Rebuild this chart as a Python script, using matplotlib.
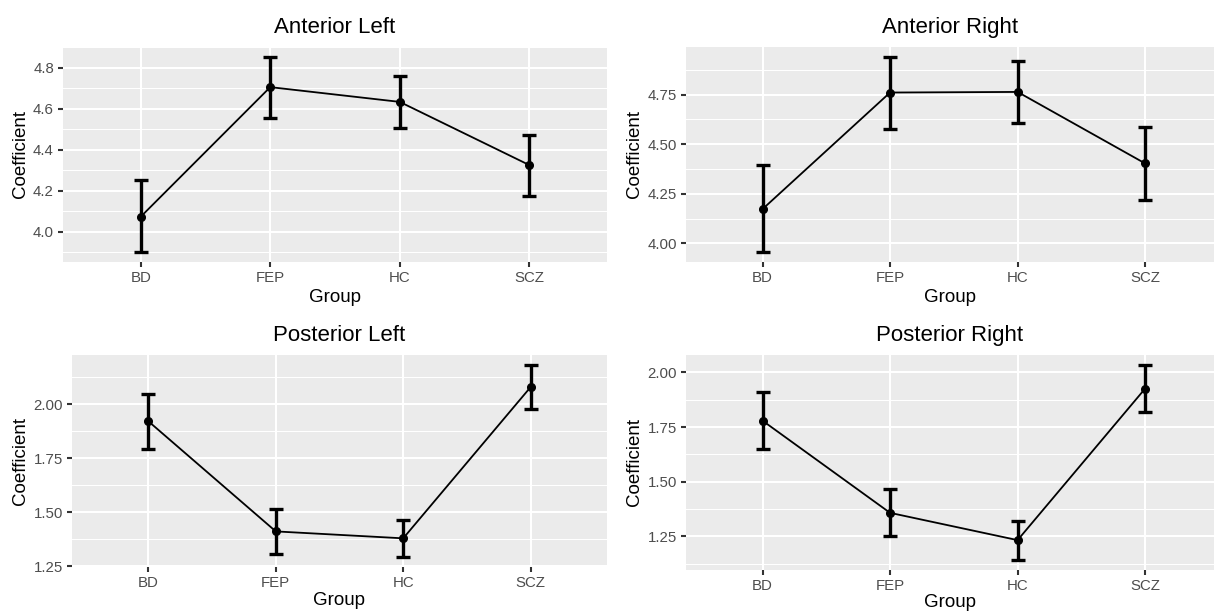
import matplotlib
matplotlib.use('Agg')
import matplotlib.pyplot as plt
from matplotlib.ticker import AutoMinorLocator
import numpy as np

plt.rcParams['font.family'] = ['Liberation Sans', 'DejaVu Sans']

groups = ['BD', 'FEP', 'HC', 'SCZ']

# point estimate, lower and upper bound of the error bar for each panel
ant_left = [4.073, 4.705, 4.633, 4.325]
ant_left_lo = [3.900, 4.554, 4.507, 4.175]
ant_left_hi = [4.252, 4.853, 4.758, 4.472]

ant_right = [4.173, 4.760, 4.763, 4.403]
ant_right_lo = [3.956, 4.577, 4.605, 4.219]
ant_right_hi = [4.394, 4.940, 4.920, 4.588]

post_left = [1.921, 1.412, 1.380, 2.079]
post_left_lo = [1.795, 1.307, 1.292, 1.977]
post_left_hi = [2.046, 1.517, 1.466, 2.183]

post_right = [1.779, 1.357, 1.232, 1.926]
post_right_lo = [1.650, 1.249, 1.140, 1.820]
post_right_hi = [1.910, 1.464, 1.321, 2.035]

titles = ['Anterior Left', 'Anterior Right', 'Posterior Left', 'Posterior Right']
yticks = [[4.0, 4.2, 4.4, 4.6, 4.8],
          [4.00, 4.25, 4.50, 4.75],
          [1.25, 1.50, 1.75, 2.00],
          [1.25, 1.50, 1.75, 2.00]]
yfmt = ['%.1f', '%.2f', '%.2f', '%.2f']

panels = [(ant_left, ant_left_lo, ant_left_hi),
          (ant_right, ant_right_lo, ant_right_hi),
          (post_left, post_left_lo, post_left_hi),
          (post_right, post_right_lo, post_right_hi)]

# axes rectangles in pixels (left, top, right, bottom)
W, H = 1214, 613
rects = [(63, 47, 607, 262),
         (686, 47, 1214, 262),
         (72, 355, 607, 567),
         (686, 355, 1214, 570)]
xmax = [3.6, 3.54, 3.6, 3.54]
xlabpad = [2.5, 2.5, 1.5, 0.5]

fig = plt.figure(figsize=(W / 100, H / 100), dpi=100)
bg = '#EBEBEB'

for i, (mean, lo, hi) in enumerate(panels):
    x0, y0, x1, y1 = rects[i]
    ax = fig.add_axes([x0 / W, 1 - y1 / H, (x1 - x0) / W, (y1 - y0) / H])
    ax.set_facecolor(bg)
    for s in ax.spines.values():
        s.set_visible(False)

    x = np.arange(len(groups))
    mean = np.array(mean); lo = np.array(lo); hi = np.array(hi)
    ax.errorbar(x, mean, yerr=[mean - lo, hi - mean], fmt='none', ecolor='black',
                elinewidth=2.4, capsize=4.8, capthick=2.4, zorder=3)
    ax.plot(x, mean, color='black', lw=1.3, zorder=4)
    ax.plot(x, mean, 'o', color='black', ms=5.5, zorder=5)

    dmin, dmax = lo.min(), hi.max()
    pad = 0.05 * (dmax - dmin)
    ax.set_ylim(dmin - pad, dmax + pad)
    ax.set_xlim(-0.6, xmax[i])

    ax.set_xticks(x)
    ax.set_xticklabels(groups)
    ax.set_yticks(yticks[i])
    ax.set_yticklabels([yfmt[i] % v for v in yticks[i]])
    ax.yaxis.set_minor_locator(AutoMinorLocator(2))

    ax.grid(True, which='major', color='white', lw=1.5)
    ax.grid(True, which='minor', axis='y', color='white', lw=0.75)
    ax.set_axisbelow(True)

    ax.tick_params(which='major', length=3.5, width=1.5, color='#333333',
                   labelcolor='#4D4D4D', labelsize=10.8, pad=3)
    ax.tick_params(which='minor', length=0)

    ax.set_title(titles[i], fontsize=16, pad=10)
    ax.set_xlabel('Group', fontsize=13.5, labelpad=xlabpad[i])
    ax.set_ylabel('Coefficient', fontsize=13.5, labelpad=3)

fig.savefig('out.png', dpi=100, facecolor='white')
